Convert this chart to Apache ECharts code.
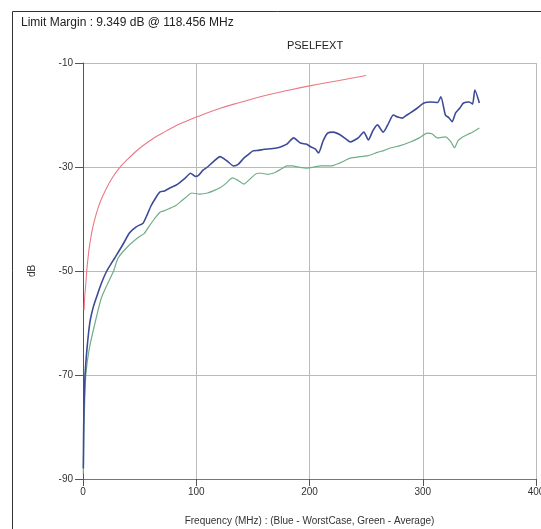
<!DOCTYPE html>
<html>
<head>
<meta charset="utf-8">
<script src="https://cdn.jsdelivr.net/npm/echarts@6/dist/echarts.min.js"></script>
<style>html,body{margin:0;padding:0;background:#fff;}#c{width:541px;height:529px;}</style>
</head>
<body>
<div id="c"></div>
<script>
var titleText = 'Limit Margin : 9.349 dB @ 118.456 MHz';
var chartTitle = 'PSELFEXT';
var xName = 'Frequency (MHz) : (Blue - WorstCase, Green - Average)';
var yName = 'dB';
var xTicks = [0, 100, 200, 300, 400];
var yTicks = [-90, -70, -50, -30, -10];

var limitRed = [[1,-57.5],[1.5,-55],[2.5,-52.4],[3.5,-49.5],[5,-46.4],[6,-44.8],[8,-42.3],[10,-40.4],[13,-38.1],[16,-36.3],[20,-34.4],[25,-32.4],[32,-30.2],[40,-28.4],[50,-26.4],[60,-24.8],[70,-23.5],[80,-22.3],[90,-21.3],[100,-20.4],[120,-18.8],[140,-17.5],[160,-16.3],[180,-15.3],[200,-14.4],[225,-13.4],[250,-12.4]];

var worstBlue = [[0.3,-88],[0.6,-80],[1,-75],[1.8,-70],[3.5,-65],[6,-60],[9,-57],[12,-55],[16,-52.5],[21,-50],[28,-47.5],[35,-45],[41,-42.7],[47,-41.5],[53,-40.8],[57,-39],[60,-37.5],[64,-36],[68,-34.8],[72,-34.6],[77,-34],[82,-33.5],[86,-32.9],[90,-32.2],[95,-31.2],[99,-31.8],[102,-31.6],[106,-30.6],[110,-30],[115,-29],[121,-28],[127,-28.8],[133,-29.8],[137,-29.5],[142,-28.3],[146,-27.6],[150,-26.9],[155,-26.8],[160,-26.6],[166,-26.5],[172,-26.3],[176,-26],[180,-25.6],[186,-24.4],[192,-25.4],[197,-25.6],[201,-26.1],[205,-26.5],[208,-27.3],[212,-25],[216,-23.5],[221,-23.3],[227,-23.8],[232,-24.6],[236,-25.2],[240,-24.8],[243,-24.4],[248,-23.3],[252,-24.8],[256,-23],[260,-21.9],[265,-23.3],[270,-21.5],[274,-20],[278,-20.4],[282,-20.6],[286,-20],[289,-19.6],[295,-18.7],[301,-17.7],[307,-17.5],[313,-17.6],[316,-16.5],[320,-20],[323,-20.5],[326,-21.3],[329,-19.6],[333,-18.6],[336,-17.7],[341,-17.5],[344,-17.9],[346,-15.2],[350,-17.7]];

var averageGreen = [[0.3,-89],[0.7,-82],[1.5,-75],[2.5,-70],[5.5,-65],[10.6,-60],[16.5,-55],[27,-50],[31,-47.5],[40,-45.2],[49,-43.5],[54,-42.8],[58,-41.5],[63,-40],[68,-38.7],[72,-38.4],[77,-37.9],[82,-37.4],[86,-36.7],[91,-35.8],[96,-35],[103,-35.2],[110,-35],[115,-34.6],[121,-34],[126,-33.2],[132,-32.1],[137,-32.6],[142,-33.3],[148,-32.2],[154,-31.2],[158,-31.2],[163,-31.4],[170,-31],[175,-30.4],[180,-29.8],[185,-29.8],[190,-30],[198,-30.2],[204,-30],[210,-29.8],[219,-29.8],[227,-29.2],[231,-28.8],[236,-28.3],[245,-28],[252,-27.8],[260,-27.2],[266,-26.8],[272,-26.3],[280,-25.9],[289,-25.2],[297,-24.4],[304,-23.5],[308,-23.6],[313,-24.4],[320,-24.2],[325,-25.2],[328,-26.3],[331,-25],[334,-24.4],[340,-23.7],[344,-23.3],[350,-22.5]];

var chart = echarts.init(document.getElementById('c'), null, {renderer:'canvas'});
chart.setOption({
  backgroundColor: '#fff',
  animation: false,
  title: [
    {text: titleText, left: 16, top: 12, textStyle: {fontFamily: 'Liberation Sans, Arial', fontSize: 12, fontWeight: 'normal', color: '#222'}},
    {text: chartTitle, left: 310, textAlign: 'center', top: 35, textStyle: {fontFamily: 'Liberation Sans, Arial', fontSize: 11, fontWeight: 'normal', color: '#222'}}
  ],
  graphic: [
    {type: 'rect', shape: {x: 12.5, y: 11.5, width: 600, height: 600}, style: {fill: 'none', stroke: '#333', lineWidth: 1}, silent: true}
  ],
  grid: {left: 83, right: 5, top: 63, bottom: 50, outerBoundsMode: 'none', containLabel: false},
  xAxis: {
    type: 'value', min: xTicks[0], max: xTicks[xTicks.length-1], interval: 100,
    name: xName, nameLocation: 'middle', nameGap: 37,
    nameTextStyle: {fontFamily: 'Liberation Sans, Arial', fontSize: 10, color: '#333'},
    axisLine: {lineStyle: {color: '#777', width: 1}},
    axisTick: {show: true, length: 7, lineStyle: {color: '#555'}},
    axisLabel: {fontFamily: 'Liberation Sans, Arial', fontSize: 10, color: '#333', margin: 8},
    splitLine: {show: true, lineStyle: {color: '#bbb', width: 1}}
  },
  yAxis: {
    type: 'value', min: yTicks[0], max: yTicks[yTicks.length-1], interval: 20,
    name: yName, nameLocation: 'middle', nameGap: 46, nameRotate: 90,
    nameTextStyle: {fontFamily: 'Liberation Sans, Arial', fontSize: 10, color: '#333'},
    axisLine: {show: true, lineStyle: {color: '#555', width: 1}},
    axisTick: {show: true, length: 8, lineStyle: {color: '#555'}},
    axisLabel: {fontFamily: 'Liberation Sans, Arial', fontSize: 10, color: '#333', margin: 10},
    splitLine: {show: true, lineStyle: {color: '#bbb', width: 1}}
  },
  series: [
    {name: 'Limit', type: 'line', data: limitRed, showSymbol: false, smooth: true, lineStyle: {color: '#ec7884', width: 1.1}, z: 3},
    {name: 'Average', type: 'line', data: averageGreen, showSymbol: false, smooth: 0.2, lineStyle: {color: '#6fae88', width: 1.2}, z: 4},
    {name: 'WorstCase', type: 'line', data: worstBlue, showSymbol: false, smooth: 0.2, lineStyle: {color: '#3d4b96', width: 1.6}, z: 5}
  ]
});
</script>
</body>
</html>
